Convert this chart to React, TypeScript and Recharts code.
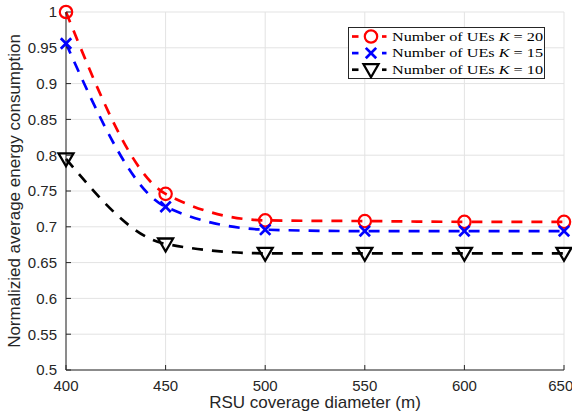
import React from 'react';
import { LineChart, Line, XAxis, YAxis, CartesianGrid } from 'recharts';

const diameters = [400, 450, 500, 550, 600, 650];
const energyK20 = [1.0, 0.746, 0.709, 0.708, 0.707, 0.707];
const energyK15 = [0.956, 0.728, 0.696, 0.694, 0.694, 0.694];
const energyK10 = [0.795, 0.676, 0.663, 0.663, 0.663, 0.663];
const xTicks = [400, 450, 500, 550, 600, 650];
const yTicks = [0.5, 0.55, 0.6, 0.65, 0.7, 0.75, 0.8, 0.85, 0.9, 0.95, 1];
const legendLabels = ['20', '15', '10'];

const data = diameters.map((x, i) => ({ x, k20: energyK20[i], k15: energyK15[i], k10: energyK10[i] }));

const AXIS = '#262626';
const FONT = '"Liberation Sans", Arial, sans-serif';

const CircleMark = ({ cx, cy, color }: any) => (
  <circle cx={cx} cy={cy} r={6.2} fill="none" stroke={color} strokeWidth={2.2} />
);
const CrossMark = ({ cx, cy, color }: any) => (
  <g stroke={color} strokeWidth={2.7}>
    <line x1={cx - 5.2} y1={cy - 5.2} x2={cx + 5.2} y2={cy + 5.2} />
    <line x1={cx - 5.2} y1={cy + 5.2} x2={cx + 5.2} y2={cy - 5.2} />
  </g>
);
const TriMark = ({ cx, cy, color }: any) => (
  <polygon points={`${cx - 7.5},${cy - 5.5} ${cx + 7.5},${cy - 5.5} ${cx},${cy + 7.5}`} fill="none" stroke={color} strokeWidth={2.3} strokeLinejoin="miter" />
);

const mkDot = (Comp: any, color: string) => (props: any) => {
  const { cx, cy, index } = props;
  return <Comp key={`d${index}`} cx={cx} cy={cy} color={color} />;
};

const emptyTick = () => <g />;

const fmtY = (v: number) => String(+v.toFixed(2));

const series = [
  { key: 'k20', color: '#ff0000', Mark: CircleMark },
  { key: 'k15', color: '#0000ff', Mark: CrossMark },
  { key: 'k10', color: '#000000', Mark: TriMark },
];

const DASH = '11 9';

export default function App() {
  return (
    <div style={{ position: 'absolute', left: 0, top: 0, width: 572, height: 417, background: '#fff' }}>
      <LineChart width={572} height={417} data={data} margin={{ top: 12, right: 8, bottom: 0, left: 0 }}>
        <CartesianGrid stroke="#e3e3e3" strokeWidth={1} horizontalValues={yTicks} verticalValues={xTicks} />
        <XAxis
          dataKey="x"
          type="number"
          domain={[400, 650]}
          ticks={xTicks}
          height={47}
          tickSize={-5}
          tickMargin={15}
          stroke={AXIS}
          tick={{ fill: AXIS, fontSize: 15, fontFamily: FONT }}
          label={(p: any) => {
            const vb = p.viewBox;
            return (
              <text x={vb.x + vb.width / 2} y={vb.y + 38} textAnchor="middle" fill={AXIS} fontSize={17} fontFamily={FONT}>
                RSU coverage diameter (m)
              </text>
            );
          }}
        />
        <XAxis xAxisId="top" orientation="top" type="number" domain={[400, 650]} ticks={xTicks} height={0} tickSize={-5} stroke={AXIS} tick={emptyTick} />
        <YAxis
          type="number"
          domain={[0.5, 1]}
          ticks={yTicks}
          width={66}
          tickSize={-5}
          tickMargin={14}
          tickFormatter={fmtY}
          stroke={AXIS}
          tick={{ fill: AXIS, fontSize: 15, fontFamily: FONT }}
          label={(p: any) => {
            const vb = p.viewBox;
            const cx = vb.x + 14.5;
            const cy = vb.y + vb.height / 2;
            return (
              <text x={cx} y={cy} transform={`rotate(-90 ${cx} ${cy})`} textAnchor="middle" dominantBaseline="central" fill={AXIS} fontSize={17} fontFamily={FONT}>
                Normalizied average energy consumption
              </text>
            );
          }}
        />
        <YAxis yAxisId="right" orientation="right" type="number" domain={[0.5, 1]} ticks={yTicks} width={0} tickSize={-5} stroke={AXIS} tick={emptyTick} />
        {series.map((s) => (
          <Line
            key={s.key}
            type="monotone"
            dataKey={s.key}
            stroke={s.color}
            strokeWidth={2.7}
            strokeDasharray={DASH}
            dot={mkDot(s.Mark, s.color)}
            activeDot={false}
            isAnimationActive={false}
          />
        ))}
      </LineChart>
      <svg width={197} height={52} style={{ position: 'absolute', left: 348, top: 27, display: 'block' }}>
        <rect x={0.5} y={0.5} width={196} height={51} fill="#fff" stroke="#262626" strokeWidth={1} />
        {series.map((s, i) => {
          const cy = 9.5 + i * 16.6;
          return (
            <g key={s.key}>
              <line x1={4} x2={10.5} y1={cy} y2={cy} stroke={s.color} strokeWidth={2.7} />
              <line x1={34} x2={38.5} y1={cy} y2={cy} stroke={s.color} strokeWidth={2.7} />
              <s.Mark cx={23} cy={cy} color={s.color} />
              <text
                x={44}
                y={cy + 4.2}
                textLength={151}
                lengthAdjust="spacingAndGlyphs"
                fontFamily='"Liberation Serif", "Times New Roman", serif'
                fontSize={13}
                fill="#000"
              >
                Number of UEs <tspan fontStyle="italic">K</tspan> = {legendLabels[i]}
              </text>
            </g>
          );
        })}
      </svg>
    </div>
  );
}
